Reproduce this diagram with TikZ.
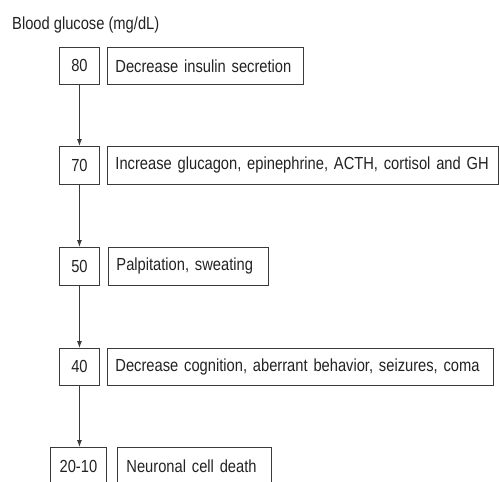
\documentclass[tikz,border=0pt]{standalone}
\usepackage{fontspec}
\setmainfont[FakeStretch=0.84]{Liberation Sans}
\usetikzlibrary{arrows.meta}
\definecolor{linec}{HTML}{3A3A3A}
\definecolor{txtc}{HTML}{222222}
\tikzset{
  numbox/.style={draw=linec, line width=0.9pt, inner sep=0pt, minimum height=37pt, anchor=north west, text=txtc},
  txtbox/.style={draw=linec, line width=0.9pt, inner xsep=8pt, inner ysep=0pt, minimum height=37pt, anchor=north west, align=left, text=txtc},
  arr/.style={draw=linec, line width=0.9pt, -{Latex[length=7pt,width=5pt]}}
}
\begin{document}
\begin{tikzpicture}[x=1pt,y=-1pt,font=\fontsize{17.5}{20}\selectfont]
\useasboundingbox (0,0) rectangle (499,482);
\clip (0,0) rectangle (499,482);
\node[anchor=west, inner sep=0pt, text=txtc] (title) at (12,25) {Blood glucose (mg/dL)};
% row 80
\node[numbox, minimum width=40pt] (n80) at (59,47) {80};
\node[txtbox, text width=180pt] (t80) at (107,47) {Decrease insulin secretion};
% row 70
\node[numbox, minimum width=40pt, minimum height=38pt] (n70) at (59,146) {70};
\node[txtbox, text width=375pt, minimum height=38pt] (t70) at (107,146) {Increase glucagon, epinephrine, ACTH, cortisol and GH};
% row 50
\node[numbox, minimum width=40pt, minimum height=38pt] (n50) at (59,247) {50};
\node[txtbox, text width=144pt, minimum height=38pt] (t50) at (108,247) {Palpitation, sweating};
% row 40
\node[numbox, minimum width=40pt] (n40) at (59,348) {40};
\node[txtbox, text width=370pt] (t40) at (107,348) {Decrease cognition, aberrant behavior, seizures, coma};
% row 20-10
\node[numbox, minimum width=56pt, minimum height=38pt] (n20) at (50,447) {20-10};
\node[txtbox, text width=136pt, inner xsep=9pt, minimum height=38pt] (t20) at (117,447) {Neuronal cell death};
% arrows
\draw[arr] (n80.south) -- (n80.south |- n70.north);
\draw[arr] (n70.south) -- (n70.south |- n50.north);
\draw[arr] (n50.south) -- (n50.south |- n40.north);
\draw[arr] (n40.south) -- (n40.south |- n20.north);
\end{tikzpicture}
\end{document}
